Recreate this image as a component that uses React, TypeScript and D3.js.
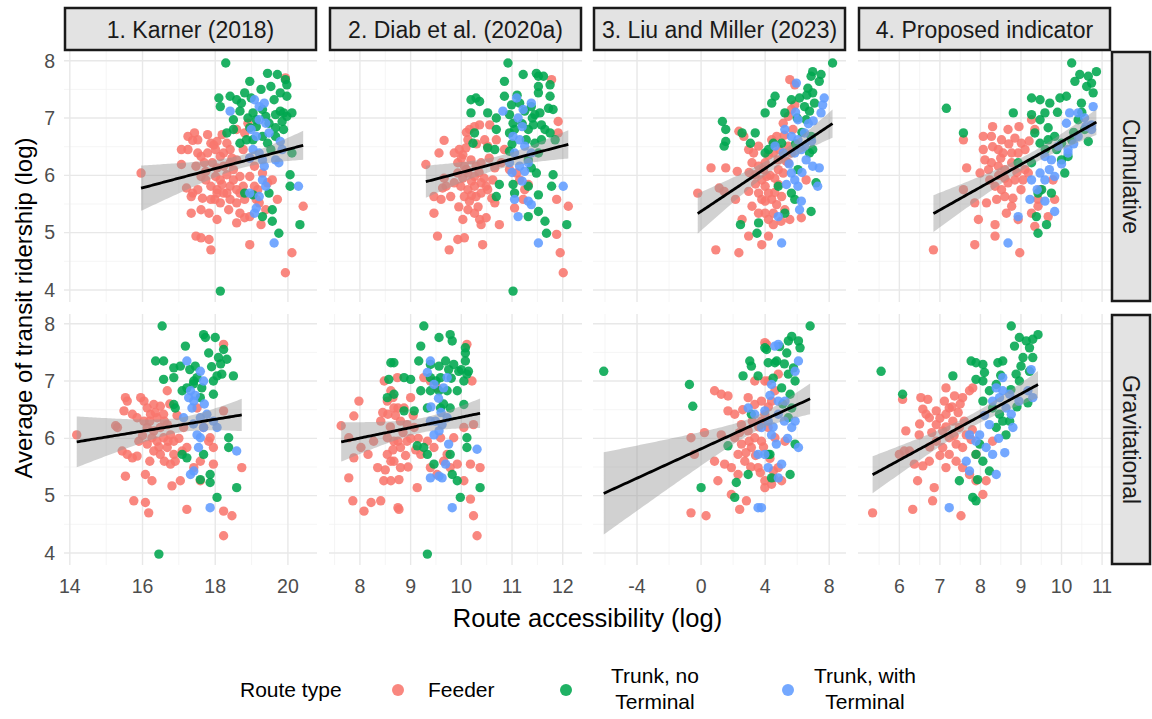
import React from "react";
import * as d3 from "d3";

type Pt = [number, number];

// facet labels and legend
const METHODS = ["1. Karner (2018)", "2. Diab et al. (2020a)", "3. Liu and Miller (2023)", "4. Proposed indicator"];
const MEASURES = ["Cumulative", "Gravitational"];
const ROUTE_TYPES = ["Feeder", "Trunk, no\nTerminal", "Trunk, with\nTerminal"];
const ROUTE_COLORS = ["#F8766D", "#00A64F", "#619CFF"];
const X_TICKS = [[14, 16, 18, 20], [8, 9, 10, 11, 12], [-4, 0, 4, 8], [6, 7, 8, 9, 10, 11]];
const Y_TICKS = [4, 5, 6, 7, 8];

// ---- Cumulative row (x = route accessibility, y = ridership) ----
const karnerCumFeeder: Pt[] = [[15.96,6.04],[17.25,6.68],[17.38,6.61],[17.25,6.45],[17.52,6.39],[17.61,6.33],[17.07,6.19],[17.47,6.16],[17.79,6.71],[17.88,6.56],[18.05,6.59],[18.19,6.71],[18.32,6.56],[17.79,6.39],[18.01,6.45],[18.23,6.39],[18.41,6.45],[17.92,6.22],[18.05,6.13],[18.23,6.16],[18.41,6.22],[18.59,6.27],[18.01,5.98],[18.14,5.92],[18.32,6.01],[18.5,5.92],[18.68,5.98],[17.88,5.81],[18.05,5.75],[18.23,5.69],[18.41,5.81],[18.59,5.75],[18.77,5.81],[17.21,5.78],[17.38,5.69],[17.52,5.75],[17.65,5.6],[17.34,5.63],[17.88,5.58],[18.05,5.69],[18.41,5.58],[18.59,5.52],[17.34,5.34],[17.83,5.34],[18.05,5.23],[18.59,5.17],[18.81,5.26],[18.95,5.28],[17.47,4.94],[17.61,4.91],[17.83,4.88],[17.88,4.7],[18.95,4.79],[19.26,5.14],[19.39,5.4],[19.71,5.58],[19.57,5.92],[19.3,6.04],[19.08,6.16],[18.77,6.45],[18.81,6.74],[18.59,6.8],[18.9,6.91],[19.44,5.87],[20.11,4.65],[19.93,4.3],[20.42,5.46],[19.93,7.7],[18.95,5.98],[19.17,5.75],[19.21,5.52],[18.5,6.1],[18.14,5.52],[17.7,6.22],[17.61,5.98],[17.74,5.92],[17.07,6.45],[18.32,5.69],[18.14,6.33],[18.68,5.69],[19.13,5.58],[17.96,6.53],[18.46,6.3],[17.74,6.07],[18.19,5.84],[17.99,5.58],[18.37,5.4],[18.68,5.34],[17.61,5.4],[18.95,6.3],[19.08,5.81],[18.81,5.58],[17.52,6.62],[17.43,6.74]];
const karnerCumTrunk: Pt[] = [[18.29,7.96],[19.44,7.78],[19.71,7.76],[19.93,7.67],[19.97,7.58],[18.95,7.64],[19.53,7.55],[18.1,7.35],[18.14,7.2],[18.41,7.38],[18.59,7.32],[18.72,7.26],[18.68,7.12],[18.99,7.35],[18.9,7.0],[19.04,7.09],[19.13,6.97],[19.3,7.15],[19.39,7.03],[19.48,6.91],[19.66,7.06],[19.79,7.12],[19.88,7.09],[19.97,7.03],[20.11,7.09],[19.79,7.44],[19.97,7.38],[19.84,6.94],[19.66,6.83],[19.13,6.85],[18.95,6.83],[18.5,6.8],[18.32,6.74],[18.68,6.56],[18.86,6.62],[19.3,6.68],[19.44,6.56],[19.53,6.45],[19.66,6.68],[19.88,6.8],[20.06,6.01],[20.06,5.81],[18.81,5.69],[19.04,5.66],[19.48,5.69],[19.57,5.4],[19.3,5.28],[19.57,5.2],[19.75,4.99],[20.33,5.14],[18.14,3.98],[20.11,6.39],[19.04,6.62],[18.5,6.97],[18.81,7.44],[19.26,7.5],[19.62,7.32]];
const karnerCumTerminal: Pt[] = [[19.08,7.32],[18.41,7.12],[19.21,7.2],[19.35,7.26],[19.39,6.91],[18.99,6.8],[19.13,6.68],[19.04,6.45],[19.21,6.39],[19.3,6.27],[19.35,6.16],[19.3,5.92],[19.39,5.81],[19.66,6.27],[19.75,6.22],[19.79,6.59],[19.84,6.45],[20.29,5.81],[19.08,5.34],[19.13,5.43],[19.62,4.82],[18.95,6.3],[19.21,5.63],[18.95,5.69],[19.48,6.74],[19.21,6.97]];

const diabCumFeeder: Pt[] = [[9.3,6.19],[9.66,6.61],[9.56,6.39],[9.46,5.63],[9.46,5.34],[9.53,4.94],[9.63,5.78],[9.7,5.81],[9.79,5.63],[9.76,4.7],[9.93,4.88],[10.06,4.91],[9.86,6.39],[9.96,6.45],[10.03,6.36],[10.09,6.48],[10.13,6.62],[10.16,6.8],[10.26,6.85],[10.36,6.88],[9.93,6.22],[10.06,6.16],[10.19,6.27],[10.29,6.16],[10.39,6.22],[9.93,6.04],[10.03,5.95],[10.13,6.04],[10.26,5.98],[9.86,5.87],[9.99,5.81],[10.13,5.75],[10.26,5.81],[10.39,5.87],[10.49,5.81],[10.06,5.63],[10.16,5.55],[10.29,5.63],[10.39,5.69],[10.52,5.75],[10.13,5.4],[10.26,5.34],[10.36,5.23],[10.49,5.26],[10.03,5.23],[10.39,5.14],[10.75,5.14],[10.42,4.79],[10.56,6.88],[10.69,6.62],[10.66,6.13],[10.62,5.92],[10.79,6.22],[10.85,6.45],[10.95,6.1],[11.09,6.04],[11.15,5.92],[11.22,5.58],[11.05,5.43],[11.25,5.75],[11.32,5.84],[11.91,6.94],[11.91,6.74],[11.88,5.58],[12.11,5.46],[11.88,4.97],[11.95,4.65],[12.01,4.3],[11.78,7.67],[10.46,6.62],[10.52,6.51],[9.66,5.95],[9.6,5.58],[10.66,5.52],[10.0,6.3],[10.1,6.1],[10.2,5.9],[10.35,6.05],[10.45,5.95],[10.2,5.65],[10.33,5.45],[10.55,6.3],[9.95,5.45],[10.6,5.6],[10.1,6.75],[10.3,6.55]];
const diabCumTrunk: Pt[] = [[10.92,7.96],[11.22,7.76],[11.48,7.78],[11.52,7.73],[11.62,7.73],[11.75,7.58],[10.85,7.64],[11.52,7.55],[10.85,7.38],[11.52,7.44],[11.75,7.38],[10.19,7.32],[10.29,7.35],[10.36,7.29],[10.19,7.09],[10.52,7.09],[10.69,7.0],[10.99,7.23],[11.15,7.26],[11.25,7.12],[11.38,7.2],[11.45,7.06],[11.55,7.09],[11.72,7.17],[11.81,7.15],[10.95,7.06],[11.02,6.91],[11.05,6.8],[11.32,6.8],[11.42,6.88],[11.58,6.88],[11.65,6.8],[11.75,6.74],[11.85,6.62],[11.58,6.62],[11.45,6.56],[11.28,6.62],[10.95,6.74],[10.69,6.8],[10.26,6.74],[10.23,6.56],[10.52,6.48],[10.66,6.45],[10.95,6.42],[11.32,6.27],[11.38,6.13],[11.48,6.04],[11.52,6.39],[10.75,5.84],[10.69,5.63],[11.02,5.84],[11.05,5.69],[11.32,5.81],[11.52,5.66],[11.81,6.01],[11.78,5.81],[11.32,5.28],[11.52,5.37],[11.65,5.2],[11.68,4.99],[12.08,5.14],[11.02,3.98],[11.1,7.4],[11.4,7.0],[11.0,6.55],[11.2,6.9]];
const diabCumTerminal: Pt[] = [[11.09,7.35],[10.82,7.12],[11.12,7.0],[11.22,7.15],[11.38,7.26],[11.02,6.68],[11.15,6.62],[11.05,6.39],[10.95,6.22],[11.15,6.16],[11.25,6.07],[11.32,6.22],[11.38,6.39],[11.05,5.58],[11.32,5.55],[11.38,5.49],[11.12,5.28],[11.52,4.82],[12.01,5.81],[11.25,6.51],[11.2,6.85],[11.0,6.05],[11.2,5.9]];

const liuCumFeeder: Pt[] = [[-0.21,5.69],[0.92,4.7],[2.36,4.65],[0.62,6.13],[1.54,6.13],[2.26,6.07],[1.13,5.78],[1.44,5.72],[2.15,5.58],[2.36,6.77],[2.67,6.68],[2.97,6.45],[3.28,6.39],[3.59,6.51],[3.18,6.22],[3.59,6.16],[3.38,6.01],[3.79,5.92],[4.0,5.81],[4.21,5.69],[4.41,5.58],[4.72,5.49],[5.03,5.63],[3.59,5.69],[3.79,5.58],[3.18,5.46],[3.59,5.34],[4.0,5.34],[4.21,5.23],[4.51,5.14],[2.97,4.94],[3.79,4.79],[4.21,4.94],[4.51,5.34],[2.56,5.23],[4.82,5.84],[5.13,6.04],[5.44,6.22],[5.64,6.39],[5.44,6.51],[4.72,6.68],[4.51,6.39],[4.82,6.27],[5.13,6.91],[5.44,7.03],[5.64,7.15],[5.85,7.23],[5.54,7.67],[5.85,7.58],[5.74,6.8],[4.0,6.22],[5.23,5.4],[5.54,5.23],[6.26,5.26],[6.56,5.92],[2.97,5.72],[4.1,5.98],[4.82,6.1],[4.41,6.62],[3.9,6.1],[4.3,6.0],[4.6,5.95],[4.9,6.45],[5.2,6.7],[3.4,5.85],[4.0,5.55],[4.6,5.7],[5.0,5.2],[4.2,6.35],[3.0,6.05],[5.3,6.25]];
const liuCumTrunk: Pt[] = [[8.21,7.96],[6.97,7.81],[7.49,7.76],[6.87,7.73],[7.38,7.64],[6.67,7.52],[6.97,7.44],[4.62,7.38],[4.41,7.26],[4.0,7.09],[5.23,7.09],[5.64,7.32],[6.15,7.35],[6.46,7.2],[6.77,7.12],[7.08,7.26],[6.56,6.97],[1.33,6.94],[1.54,6.8],[1.54,6.59],[1.44,6.51],[2.56,6.74],[3.38,6.74],[3.08,6.56],[4.21,6.45],[4.51,6.56],[5.03,6.56],[6.87,6.68],[6.97,6.45],[6.77,6.39],[6.05,6.1],[4.82,5.81],[5.64,5.69],[5.85,5.58],[6.87,5.37],[5.23,5.34],[2.46,5.14],[3.49,4.99],[3.59,5.17],[7.18,5.87],[4.0,6.39],[6.0,7.0],[6.3,6.75],[6.6,7.4],[5.9,6.55]];
const liuCumTerminal: Pt[] = [[5.95,7.61],[7.69,7.35],[7.59,7.23],[7.49,7.09],[6.05,6.97],[5.23,6.8],[5.64,6.68],[6.05,6.62],[6.46,6.74],[4.62,6.51],[5.13,6.39],[5.85,6.39],[6.26,6.45],[6.56,6.27],[6.97,6.16],[7.38,6.13],[5.85,5.92],[6.05,5.81],[5.64,6.04],[7.28,5.81],[6.26,5.55],[6.15,5.4],[5.03,4.82],[4.82,5.28],[6.46,6.51],[5.33,5.84],[6.7,6.9],[6.9,6.6],[5.5,6.2],[6.3,6.05],[5.9,7.1],[7.0,6.95]];

const propCumFeeder: Pt[] = [[6.84,4.7],[7.86,4.79],[8.36,4.94],[8.36,5.14],[7.95,5.23],[8.97,4.65],[7.66,6.13],[7.86,5.52],[8.15,5.52],[7.99,6.04],[8.07,6.45],[8.11,6.27],[8.07,6.68],[8.27,6.68],[8.68,6.8],[8.44,6.45],[8.56,6.39],[8.27,6.22],[8.44,6.16],[8.6,6.1],[8.77,6.22],[8.23,5.92],[8.36,5.81],[8.52,5.75],[8.68,5.87],[8.85,5.92],[8.4,5.58],[8.6,5.63],[8.77,5.46],[8.64,5.34],[8.85,6.65],[9.01,6.56],[8.93,6.39],[9.1,6.45],[9.26,6.97],[9.34,6.8],[9.1,6.1],[9.05,5.92],[9.18,6.04],[9.42,5.58],[9.42,5.46],[9.26,5.34],[9.67,5.28],[9.79,5.92],[9.83,5.58],[7.58,5.75],[7.58,6.62],[8.93,5.23],[9.34,5.11],[9.47,5.75],[8.77,6.39],[8.52,6.62],[8.3,6.5],[8.5,6.3],[8.7,6.55],[8.9,6.05],[8.45,6.0],[8.2,6.1],[8.6,5.95],[9.0,5.75],[8.8,5.6],[8.3,6.85],[9.2,6.6],[8.95,6.85]];
const propCumTrunk: Pt[] = [[10.25,7.96],[10.45,7.76],[10.66,7.73],[10.86,7.81],[10.74,7.61],[10.33,7.64],[10.62,7.55],[10.78,7.44],[9.26,7.35],[9.47,7.32],[9.71,7.26],[9.96,7.35],[10.12,7.38],[10.49,7.26],[7.16,7.17],[8.81,7.09],[9.26,7.06],[9.47,6.97],[9.59,7.09],[7.58,6.74],[9.34,6.74],[9.67,6.83],[9.83,6.68],[9.67,6.62],[10.0,6.56],[10.25,6.62],[10.66,6.59],[9.88,6.45],[10.0,6.27],[10.16,6.33],[8.93,6.22],[9.26,6.22],[9.47,6.56],[10.08,6.04],[9.51,5.75],[9.75,5.69],[9.42,5.69],[9.38,5.28],[9.63,5.14],[9.42,4.99],[10.41,6.97],[10.57,6.8],[9.9,7.1],[10.3,6.75],[9.6,6.45],[10.5,7.1]];
const propCumTerminal: Pt[] = [[10.78,7.2],[10.2,7.09],[10.41,7.09],[10.57,7.0],[10.74,6.88],[10.12,6.91],[9.92,6.51],[10.16,6.39],[9.59,6.33],[9.75,6.27],[9.47,6.04],[9.26,5.92],[9.59,5.92],[9.83,5.98],[9.22,5.58],[9.59,5.55],[9.83,5.37],[8.68,4.82],[8.93,5.28],[10.16,6.45],[10.41,6.68],[10.74,6.8],[9.7,6.1],[10.0,6.2],[9.4,5.75],[10.3,6.55],[10.6,6.85]];

// ---- Gravitational row ----
const karnerGravFeeder: Pt[] = [[14.19,6.06],[15.31,6.19],[15.53,6.71],[15.58,6.65],[15.49,6.48],[15.72,6.42],[15.95,6.71],[16.04,6.65],[16.13,6.53],[16.31,6.59],[16.49,6.56],[16.68,6.83],[15.85,6.36],[16.04,6.3],[16.22,6.42],[16.4,6.36],[16.58,6.42],[16.13,6.19],[16.31,6.13],[16.49,6.19],[16.68,6.24],[16.26,6.01],[16.4,5.95],[16.58,6.01],[16.77,6.06],[16.86,5.95],[16.13,5.9],[16.31,5.78],[16.49,5.72],[16.68,5.84],[16.86,5.72],[15.44,5.78],[15.58,5.72],[15.72,5.66],[15.85,5.69],[15.53,5.34],[16.08,5.37],[16.26,5.26],[16.77,5.55],[16.9,5.6],[17.09,5.78],[17.22,5.84],[15.76,4.91],[16.08,4.88],[16.17,4.7],[16.81,5.17],[17.04,5.26],[17.22,4.76],[17.41,5.49],[17.59,5.6],[17.95,5.55],[17.95,5.84],[17.82,5.95],[17.86,6.01],[17.68,6.19],[18.23,6.48],[18.23,4.73],[18.46,4.65],[18.23,4.3],[18.73,5.49],[17.5,6.53],[17.59,5.26],[17.13,6.19],[15.26,6.22],[18.23,7.64],[16.2,6.3],[16.35,6.45],[16.6,6.3],[16.0,6.05],[16.45,5.85],[16.7,5.95],[16.2,5.6],[16.6,5.6],[16.95,6.4],[15.9,5.95],[16.75,6.6],[17.0,6.0]];
const karnerGravTrunk: Pt[] = [[16.54,7.96],[16.36,7.35],[16.58,7.35],[16.86,7.23],[17.04,7.26],[17.18,7.61],[17.45,7.26],[17.68,7.81],[17.73,7.76],[17.82,7.49],[18.0,7.76],[18.09,7.41],[18.23,7.55],[18.32,7.38],[18.18,7.12],[18.05,7.09],[17.95,7.0],[18.5,7.09],[16.58,7.03],[16.86,7.06],[17.22,6.88],[17.5,7.06],[17.63,6.88],[17.09,6.83],[16.86,6.59],[16.9,6.53],[17.59,6.71],[17.95,6.77],[18.37,6.01],[18.37,5.84],[17.09,5.72],[17.22,5.66],[17.68,5.72],[17.59,5.28],[17.86,5.23],[17.86,5.37],[18.05,4.97],[18.59,5.14],[16.45,3.98],[17.41,7.0],[17.3,7.2],[17.9,7.25],[17.4,6.95],[18.15,7.3]];
const karnerGravTerminal: Pt[] = [[17.22,7.35],[17.59,7.17],[17.68,7.0],[17.32,6.83],[17.27,6.71],[17.41,6.65],[17.36,6.53],[17.59,6.36],[17.68,6.19],[17.5,6.06],[17.59,6.01],[17.54,5.84],[17.77,6.42],[17.95,6.3],[18.05,6.19],[18.59,5.78],[17.32,5.37],[17.41,5.43],[17.86,4.79],[17.13,6.36],[17.45,6.75],[17.7,6.6],[17.4,6.25]];

const diabGravFeeder: Pt[] = [[7.63,6.22],[7.78,6.01],[7.88,6.39],[7.98,6.65],[7.78,5.31],[7.86,4.91],[8.08,4.73],[8.22,4.88],[8.41,4.91],[8.02,5.84],[8.16,5.72],[8.27,5.95],[8.41,6.3],[8.55,6.42],[8.65,6.71],[8.75,6.53],[7.88,5.66],[8.35,5.49],[8.47,5.26],[8.75,4.79],[8.61,5.6],[8.75,5.95],[8.48,7.0],[8.61,6.83],[8.74,7.06],[8.54,6.65],[8.67,6.53],[8.87,6.53],[9.0,6.71],[8.8,6.3],[8.93,6.24],[9.07,6.19],[8.54,6.01],[8.67,5.95],[8.8,5.84],[8.93,5.95],[8.54,5.72],[8.67,5.6],[8.8,5.49],[8.61,5.26],[8.77,5.28],[9.13,5.14],[8.77,4.76],[9.26,7.06],[9.39,7.0],[9.52,6.88],[9.33,5.95],[9.46,5.84],[9.59,6.01],[9.39,5.49],[9.52,5.37],[9.65,5.6],[9.72,5.72],[9.78,5.49],[9.92,5.55],[10.05,5.26],[10.11,7.64],[10.21,7.0],[10.18,5.55],[10.18,4.94],[10.24,4.65],[10.31,4.3],[10.37,5.49],[10.24,6.24],[10.05,6.19],[9.85,6.01],[9.2,5.72],[8.6,6.2],[8.7,6.4],[8.85,6.1],[9.0,6.0],[8.65,5.8],[8.9,5.7],[9.05,6.4],[8.45,6.45],[8.95,5.5],[9.15,6.0],[8.5,5.45],[9.1,5.8]];
const diabGravTrunk: Pt[] = [[8.61,7.32],[8.57,7.03],[8.67,6.77],[9.26,7.96],[9.2,7.61],[9.56,7.76],[9.78,7.81],[9.82,7.7],[10.08,7.58],[10.08,7.49],[8.67,7.32],[9.16,7.35],[9.39,7.29],[9.56,7.26],[9.69,7.35],[9.85,7.29],[10.08,7.35],[10.14,7.17],[9.95,7.17],[9.75,7.2],[9.59,7.06],[9.39,7.06],[8.87,7.06],[9.0,7.03],[9.2,6.83],[9.39,6.83],[9.56,6.83],[9.72,6.83],[9.92,6.83],[10.05,7.0],[10.11,7.12],[8.54,6.71],[8.87,6.48],[9.07,6.48],[9.33,6.53],[9.59,6.53],[9.78,6.53],[10.05,6.59],[9.13,5.87],[9.26,5.84],[9.33,5.72],[9.46,5.55],[9.78,5.72],[9.82,5.37],[9.92,5.26],[9.98,4.97],[10.11,6.01],[10.11,5.84],[10.37,5.14],[9.33,3.98],[9.5,7.0],[9.8,7.05],[9.65,6.6],[10.0,7.2]];
const diabGravTerminal: Pt[] = [[9.39,7.35],[9.33,7.15],[9.46,6.94],[9.65,6.88],[9.72,7.06],[9.39,6.3],[9.49,6.3],[9.62,6.24],[9.72,6.36],[9.46,6.06],[9.56,6.13],[9.39,5.31],[9.56,5.34],[9.62,5.31],[9.75,5.9],[10.31,5.81],[9.82,4.79],[9.69,5.55],[9.55,6.7],[9.4,6.55],[9.6,6.45]];

const liuGravFeeder: Pt[] = [[-0.63,4.7],[0.31,4.65],[-0.63,6.01],[0.21,6.1],[0.84,6.83],[1.26,6.77],[1.68,6.74],[1.26,6.06],[-0.42,5.72],[0.84,5.6],[1.47,5.55],[1.89,5.49],[2.31,5.37],[1.05,5.26],[1.89,5.02],[2.41,4.76],[2.83,4.91],[1.68,6.48],[2.1,6.42],[2.52,6.24],[2.94,6.13],[3.35,6.01],[3.77,5.95],[2.94,6.71],[3.35,6.59],[3.77,6.65],[4.09,7.64],[2.31,5.72],[2.73,5.6],[3.14,5.84],[3.56,5.49],[3.98,5.26],[4.51,5.31],[2.1,6.01],[2.52,5.9],[3.77,6.3],[3.35,7.0],[3.98,7.0],[3.98,7.67],[4.82,7.12],[4.19,7.0],[4.61,6.83],[4.4,6.65],[3.98,6.42],[4.19,6.19],[4.61,6.01],[5.24,5.95],[4.82,5.49],[5.03,5.26],[4.4,5.2],[3.98,5.14],[4.51,5.43],[2.6,6.5],[3.0,5.95],[3.2,6.3],[3.6,6.2],[2.8,5.75],[3.4,5.7],[3.9,5.85],[4.3,5.65],[3.7,5.4],[2.4,6.1],[4.2,6.55],[3.1,5.5]];
const liuGravTrunk: Pt[] = [[-6.08,7.17],[-0.73,6.94],[-0.52,6.56],[0.0,5.14],[2.1,4.97],[2.2,5.23],[2.62,7.09],[3.04,7.35],[3.14,7.26],[3.56,7.09],[4.19,7.32],[4.09,7.55],[4.72,7.35],[4.3,5.72],[1.68,5.87],[3.14,6.42],[2.94,5.37],[6.81,7.96],[5.66,7.78],[5.45,7.7],[6.08,7.7],[6.18,7.58],[4.61,7.32],[5.35,7.49],[5.77,7.23],[5.45,7.12],[5.87,7.0],[5.03,6.88],[5.56,6.77],[5.66,6.53],[5.45,6.36],[5.87,5.9],[5.56,5.37],[4.19,5.72],[4.4,5.31],[3.98,7.58],[4.9,7.6],[5.2,7.3],[4.5,7.05],[5.1,6.6]];
const liuGravTerminal: Pt[] = [[3.56,4.79],[3.35,6.42],[3.77,6.19],[4.4,6.06],[3.56,5.72],[3.98,5.72],[4.4,6.94],[4.82,6.65],[4.82,7.64],[2.94,6.53],[3.98,6.48],[4.19,5.49],[4.61,7.61],[6.08,7.35],[5.87,7.17],[5.24,6.65],[4.82,6.42],[5.87,6.3],[5.66,6.19],[6.08,5.84],[5.03,5.55],[4.82,5.31],[3.77,4.79],[4.19,6.3],[4.5,6.2],[4.7,5.9],[5.2,6.3],[4.3,6.75],[5.4,6.0]];

const propGravFeeder: Pt[] = [[5.34,4.7],[6.33,4.76],[6.82,4.91],[6.45,5.26],[6.86,5.14],[7.52,4.65],[6.08,6.68],[6.16,6.13],[6.49,6.06],[6.53,6.71],[6.7,6.68],[6.58,6.51],[6.66,6.42],[6.74,6.36],[6.91,6.48],[7.11,6.65],[7.23,6.53],[7.36,6.74],[7.56,6.71],[7.73,6.83],[7.81,6.88],[7.15,6.42],[7.32,6.3],[7.48,6.19],[7.65,6.06],[6.91,6.24],[7.07,6.13],[7.23,6.01],[7.4,5.9],[7.56,5.84],[6.91,5.95],[7.07,5.84],[7.23,5.72],[7.4,5.6],[6.0,5.72],[6.12,5.78],[6.25,5.78],[6.37,5.55],[6.58,5.52],[6.74,5.6],[7.56,5.49],[7.73,5.37],[7.89,5.26],[8.06,5.02],[7.89,5.72],[7.77,5.98],[8.3,5.95],[8.14,5.26],[7.15,5.49],[7.15,6.88],[6.8,6.1],[7.0,6.35],[7.3,6.55],[7.45,6.45],[6.75,5.85],[7.15,6.2],[7.35,6.05],[7.6,6.3],[7.0,5.7],[7.5,6.6],[6.5,6.25],[7.8,6.15]];
const propGravTrunk: Pt[] = [[5.55,7.17],[6.08,6.77],[7.32,7.09],[7.77,7.35],[7.89,7.32],[8.06,7.29],[8.43,7.32],[8.55,7.35],[8.76,7.96],[8.96,7.76],[8.84,7.61],[9.13,7.7],[9.29,7.73],[9.42,7.81],[9.21,7.58],[9.05,7.41],[9.29,7.41],[9.0,7.26],[7.89,7.03],[8.06,7.0],[8.22,6.83],[8.39,6.94],[8.06,6.65],[8.3,6.53],[8.47,6.42],[8.55,6.3],[8.72,6.3],[8.63,6.06],[8.39,6.19],[7.98,5.9],[7.89,5.72],[8.06,5.6],[7.93,5.28],[7.81,4.97],[7.89,4.91],[8.22,5.43],[7.48,5.26],[9.21,7.17],[9.17,6.62],[8.88,7.12],[8.96,7.0],[8.5,7.1],[8.75,6.85],[8.9,6.55],[8.1,7.15]];
const propGravTerminal: Pt[] = [[8.39,6.88],[8.55,6.83],[8.72,6.77],[8.47,6.71],[8.3,6.65],[8.63,6.53],[8.76,6.42],[8.8,6.19],[8.22,6.24],[7.98,6.06],[7.73,6.06],[7.89,5.95],[8.14,5.84],[8.3,5.72],[7.65,5.6],[7.73,5.43],[8.39,5.37],[7.23,4.79],[9.25,7.2],[9.17,6.83],[9.29,6.71],[8.55,7.06],[8.45,6.0],[8.6,5.75],[8.1,6.4],[8.95,6.65]];

// rows x columns x route types
const PANELS: Pt[][][][] = [
  [
    [karnerCumFeeder, karnerCumTrunk, karnerCumTerminal],
    [diabCumFeeder, diabCumTrunk, diabCumTerminal],
    [liuCumFeeder, liuCumTrunk, liuCumTerminal],
    [propCumFeeder, propCumTrunk, propCumTerminal],
  ],
  [
    [karnerGravFeeder, karnerGravTrunk, karnerGravTerminal],
    [diabGravFeeder, diabGravTrunk, diabGravTerminal],
    [liuGravFeeder, liuGravTrunk, liuGravTerminal],
    [propGravFeeder, propGravTrunk, propGravTerminal],
  ],
];

// layout
const W = 1152;
const H = 719;
const COL_X = [64, 329, 593, 858];
const PANEL_W = 253;
const ROW_Y = [51, 314];
const PANEL_H = 251;
const X_DOMAINS: [number, number][] = [[13.84, 20.8], [7.39, 12.38], [-6.75, 9.05], [4.98, 11.22]];
const Y_DOMAIN: [number, number] = [3.79, 8.17];
const FONT = "'Liberation Sans', Arial, sans-serif";

// linear fit with 95% confidence band, like geom_smooth(method = "lm")
function lmBand(pts: Pt[]) {
  const n = pts.length;
  const mx = d3.mean(pts, (d) => d[0]) as number;
  const my = d3.mean(pts, (d) => d[1]) as number;
  let sxx = 0;
  let sxy = 0;
  pts.forEach(([x, y]) => {
    sxx += (x - mx) ** 2;
    sxy += (x - mx) * (y - my);
  });
  const b = sxy / sxx;
  const a = my - b * mx;
  const sse = d3.sum(pts, ([x, y]) => (y - (a + b * x)) ** 2);
  const s = Math.sqrt(sse / (n - 2));
  const [x0, x1] = d3.extent(pts, (d) => d[0]) as [number, number];
  return d3.range(80).map((i) => {
    const x = x0 + ((x1 - x0) * i) / 79;
    const fit = a + b * x;
    const se = s * Math.sqrt(1 / n + (x - mx) ** 2 / sxx);
    return { x, fit, lo: fit - 1.97 * se, hi: fit + 1.97 * se };
  });
}

function midTicks(ticks: number[], domain: [number, number]) {
  const step = ticks[1] - ticks[0];
  const out: number[] = [];
  for (let v = ticks[0] - step / 2; v <= domain[1]; v += step) {
    if (v >= domain[0]) out.push(v);
  }
  return out;
}

const Panel = ({ row, col }: { row: number; col: number }) => {
  const x = d3.scaleLinear().domain(X_DOMAINS[col]).range([0, PANEL_W]);
  const y = d3.scaleLinear().domain(Y_DOMAIN).range([PANEL_H, 0]);
  const groups = PANELS[row][col];
  const band = lmBand(groups.flat());
  const area = d3
    .area<{ x: number; lo: number; hi: number }>()
    .x((d) => x(d.x))
    .y0((d) => y(d.lo))
    .y1((d) => y(d.hi));
  const line = d3
    .line<{ x: number; fit: number }>()
    .x((d) => x(d.x))
    .y((d) => y(d.fit));
  const clipId = `clip-${row}-${col}`;
  const yMinor = midTicks(Y_TICKS, Y_DOMAIN);
  const xMinor = midTicks(X_TICKS[col], X_DOMAINS[col]);

  return (
    <g transform={`translate(${COL_X[col]},${ROW_Y[row]})`}>
      <clipPath id={clipId}>
        <rect width={PANEL_W} height={PANEL_H} />
      </clipPath>
      {yMinor.map((v) => (
        <line key={"ym" + v} x1={0} x2={PANEL_W} y1={y(v)} y2={y(v)} stroke="#F3F3F3" strokeWidth={0.8} />
      ))}
      {xMinor.map((v) => (
        <line key={"xm" + v} y1={0} y2={PANEL_H} x1={x(v)} x2={x(v)} stroke="#F3F3F3" strokeWidth={0.8} />
      ))}
      {Y_TICKS.map((v) => (
        <line key={"y" + v} x1={0} x2={PANEL_W} y1={y(v)} y2={y(v)} stroke="#E8E8E8" strokeWidth={1.4} />
      ))}
      {X_TICKS[col].map((v) => (
        <line key={"x" + v} y1={0} y2={PANEL_H} x1={x(v)} x2={x(v)} stroke="#E8E8E8" strokeWidth={1.4} />
      ))}
      <g clipPath={`url(#${clipId})`}>
        {groups.map((pts, gi) =>
          pts.map((d, i) => (
            <circle
              key={`${gi}-${i}`}
              cx={x(d[0])}
              cy={y(d[1])}
              r={4.7}
              fill={ROUTE_COLORS[gi]}
              fillOpacity={0.88}
            />
          ))
        )}
        <path d={area(band) || ""} fill="#9A9A9A" fillOpacity={0.45} />
        <path d={line(band) || ""} fill="none" stroke="#000" strokeWidth={2.8} />
      </g>
      {col === 0 &&
        Y_TICKS.map((v) => (
          <text key={"yl" + v} x={-9} y={y(v)} dy="0.35em" textAnchor="end" fontSize={19.5} fill="#4D4D4D">
            {v}
          </text>
        ))}
      {row === 1 &&
        X_TICKS[col].map((v) => (
          <text key={"xl" + v} x={x(v)} y={PANEL_H + 28} textAnchor="middle" fontSize={19.5} fill="#4D4D4D">
            {v}
          </text>
        ))}
    </g>
  );
};

export default function App() {
  const legendX = [398, 566, 788];
  const legendLabelMid = [0, 655, 865];
  return (
    <svg
      width={W}
      height={H}
      viewBox={`0 0 ${W} ${H}`}
      style={{ position: "absolute", left: 0, top: 0, display: "block", fontFamily: FONT, background: "#fff" }}
    >
      <rect width={W} height={H} fill="#fff" />
      {PANELS.map((r, ri) => r.map((_, ci) => <Panel key={`${ri}-${ci}`} row={ri} col={ci} />))}

      {/* column strips */}
      {METHODS.map((m, i) => (
        <g key={m}>
          <rect x={COL_X[i] + 1} y={8} width={PANEL_W - 2} height={42} fill="#E3E3E3" stroke="#1a1a1a" strokeWidth={2.5} />
          <text x={COL_X[i] + PANEL_W / 2} y={38} textAnchor="middle" fontSize={23} fill="#1A1A1A">
            {m}
          </text>
        </g>
      ))}

      {/* row strips */}
      {MEASURES.map((m, j) => (
        <g key={m}>
          <rect x={1112} y={ROW_Y[j] + 1} width={38} height={PANEL_H - 2} fill="#E3E3E3" stroke="#1a1a1a" strokeWidth={2.5} />
          <text
            transform={`translate(${1131},${ROW_Y[j] + PANEL_H / 2}) rotate(90)`}
            textAnchor="middle"
            dy="0.35em"
            fontSize={23}
            fill="#1A1A1A"
          >
            {m}
          </text>
        </g>
      ))}

      {/* axis titles */}
      <text x={(COL_X[0] + COL_X[3] + PANEL_W) / 2} y={627} textAnchor="middle" fontSize={25.5} fill="#000">
        Route accessibility (log)
      </text>
      <text
        transform={`translate(24,${(ROW_Y[0] + ROW_Y[1] + PANEL_H) / 2}) rotate(-90)`}
        textAnchor="middle"
        dy="0.35em"
        fontSize={24}
        fill="#000"
      >
        Average of transit ridership (log)
      </text>

      {/* legend */}
      <text x={240} y={697} fontSize={21} fill="#000">
        Route type
      </text>
      {ROUTE_TYPES.map((t, i) => {
        const lines = t.split("\n");
        return (
          <g key={t}>
            <circle cx={legendX[i]} cy={690} r={6} fill={ROUTE_COLORS[i]} fillOpacity={0.88} />
            {lines.length === 1 ? (
              <text x={legendX[i] + 30} y={697} fontSize={21} fill="#000">
                {lines[0]}
              </text>
            ) : (
              lines.map((l, k) => (
                <text key={k} x={legendLabelMid[i]} y={683 + k * 26} textAnchor="middle" fontSize={21} fill="#000">
                  {l}
                </text>
              ))
            )}
          </g>
        );
      })}
    </svg>
  );
}
